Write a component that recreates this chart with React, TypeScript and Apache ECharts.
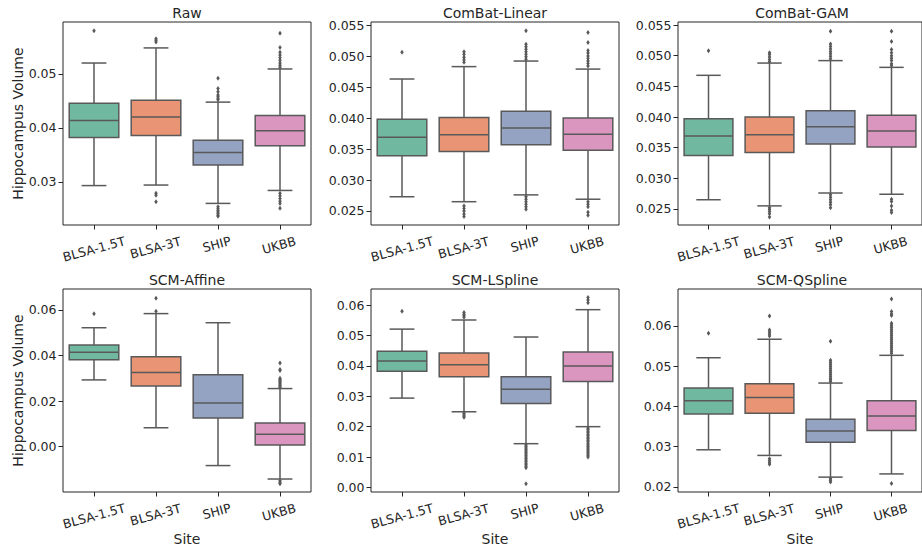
import React, { useEffect, useRef } from "react";
import * as echarts from "echarts";

// ---------- data ----------
const sites = ["BLSA-1.5T", "BLSA-3T", "SHIP", "UKBB"];
const panelTitles = ["Raw", "ComBat-Linear", "ComBat-GAM", "SCM-Affine", "SCM-LSpline", "SCM-QSpline"];

// [lower whisker, Q1, median, Q3, upper whisker] per site
const rawBoxes = [
  [0.0293, 0.0382, 0.04135, 0.04457, 0.052],
  [0.0294, 0.0386, 0.042, 0.0451, 0.0548],
  [0.026, 0.0331, 0.03543, 0.0377, 0.04476],
  [0.0284, 0.03667, 0.03944, 0.04228, 0.0509],
];
const linearBoxes = [
  [0.0273, 0.0339, 0.0369, 0.0398, 0.0463],
  [0.0265, 0.0346, 0.0373, 0.0401, 0.0483],
  [0.0276, 0.0357, 0.0384, 0.0411, 0.0492],
  [0.0269, 0.0348, 0.0374, 0.04, 0.0479],
];
const gamBoxes = [
  [0.0265, 0.0337, 0.0369, 0.0397, 0.0468],
  [0.0255, 0.0342, 0.0371, 0.04, 0.0488],
  [0.0276, 0.0356, 0.0384, 0.041, 0.0492],
  [0.0274, 0.0351, 0.0377, 0.0403, 0.0481],
];
const affineBoxes = [
  [0.0293, 0.0382, 0.0414, 0.0446, 0.0522],
  [0.0083, 0.0266, 0.0325, 0.0395, 0.0584],
  [-0.0083, 0.0126, 0.0192, 0.0316, 0.0544],
  [-0.0142, 0.0007, 0.0054, 0.0104, 0.0255],
];
const lsplineBoxes = [
  [0.0294, 0.0382, 0.0416, 0.0448, 0.0521],
  [0.0249, 0.0364, 0.0404, 0.0442, 0.0551],
  [0.0144, 0.0276, 0.0323, 0.0364, 0.0495],
  [0.02, 0.0349, 0.04, 0.0446, 0.0585],
];
const qsplineBoxes = [
  [0.0292, 0.0381, 0.0414, 0.0446, 0.0521],
  [0.0278, 0.0383, 0.0422, 0.0456, 0.0567],
  [0.0224, 0.0311, 0.0339, 0.0368, 0.0458],
  [0.0232, 0.034, 0.0376, 0.0414, 0.0527],
];

// outliers per site (same order as sites)
const rawOutliers = [
  [0.058],
  [0.0565, 0.0562, 0.0559, 0.0279, 0.0275, 0.0263],
  [0.0492, 0.0473, 0.0467, 0.0461, 0.0458, 0.0455, 0.0452, 0.0254, 0.025, 0.0247, 0.0244, 0.0241, 0.0238, 0.0236],
  [0.0575, 0.0549, 0.054, 0.0535, 0.053, 0.0525, 0.052, 0.0516, 0.0512, 0.0279, 0.0274, 0.0269, 0.0264, 0.026, 0.0251],
];
const linearOutliers = [
  [0.0506],
  [0.0507, 0.0503, 0.0498, 0.0494, 0.049, 0.0258, 0.0254, 0.025, 0.0245, 0.0241],
  [0.0541, 0.0519, 0.0515, 0.0511, 0.0507, 0.0503, 0.0499, 0.0495, 0.0273, 0.0269, 0.0265, 0.0261, 0.0257, 0.0253],
  [0.0538, 0.0522, 0.0509, 0.0505, 0.05, 0.0496, 0.0492, 0.0488, 0.0484, 0.0265, 0.0261, 0.0257, 0.0248, 0.0243],
];
const gamOutliers = [
  [0.0508],
  [0.0505, 0.0502, 0.0498, 0.0494, 0.049, 0.0252, 0.0249, 0.0246, 0.0242, 0.0237],
  [0.054, 0.0519, 0.0515, 0.0511, 0.0507, 0.0503, 0.0499, 0.0495, 0.0273, 0.0269, 0.0265, 0.0261, 0.0257, 0.0252],
  [0.054, 0.0523, 0.051, 0.0505, 0.05, 0.0496, 0.0492, 0.0487, 0.0484, 0.0266, 0.0262, 0.0255, 0.0248, 0.0244],
];
const affineOutliers = [
  [0.0583],
  [0.0651, 0.0594],
  [],
  [0.0367, 0.0339, 0.0334, 0.03, 0.0295, 0.029, 0.0285, 0.028, 0.0275, 0.027, 0.0265, 0.026, -0.015, -0.0157, -0.0163],
];
const lsplineOutliers = [
  [0.058],
  [0.0576, 0.057, 0.0565, 0.056, 0.0245, 0.024, 0.0235, 0.0231],
  [0.014, 0.0135, 0.013, 0.0125, 0.012, 0.0115, 0.011, 0.0105, 0.01, 0.0095, 0.009, 0.0085, 0.008, 0.0075, 0.007, 0.0065, 0.0012],
  [0.0625, 0.0617, 0.0608, 0.0195, 0.019, 0.0185, 0.018, 0.0175, 0.017, 0.0165, 0.016, 0.0155, 0.015, 0.0145, 0.014, 0.0135, 0.013, 0.0125, 0.012, 0.0115, 0.011, 0.0105, 0.01],
];
const qsplineOutliers = [
  [0.0582],
  [0.0625, 0.059, 0.0585, 0.058, 0.0575, 0.027, 0.0265, 0.026, 0.0256],
  [0.0562, 0.0515, 0.051, 0.0505, 0.05, 0.0495, 0.049, 0.0485, 0.048, 0.0475, 0.047, 0.0466, 0.0462, 0.022, 0.0216, 0.0212],
  [0.0667, 0.0636, 0.063, 0.0626, 0.0607, 0.0602, 0.0597, 0.0592, 0.0587, 0.0582, 0.0577, 0.0572, 0.0567, 0.0562, 0.0557, 0.0552, 0.0547, 0.0542, 0.0537, 0.0532, 0.0208],
];

// y-axis ranges and tick labels
const yMins = [0.022, 0.02274, 0.02238, -0.0199, -0.0015, 0.0187];
const yMaxs = [0.0596, 0.0555, 0.0555, 0.0692, 0.0653, 0.0692];
const yTicks = [
  [0.03, 0.04, 0.05],
  [0.025, 0.03, 0.035, 0.04, 0.045, 0.05, 0.055],
  [0.025, 0.03, 0.035, 0.04, 0.045, 0.05, 0.055],
  [0.0, 0.02, 0.04, 0.06],
  [0.0, 0.01, 0.02, 0.03, 0.04, 0.05, 0.06],
  [0.02, 0.03, 0.04, 0.05, 0.06],
];
const yDecimals = [2, 3, 3, 2, 2, 2];

const boxesAll = [rawBoxes, linearBoxes, gamBoxes, affineBoxes, lsplineBoxes, qsplineBoxes];
const outliersAll = [rawOutliers, linearOutliers, gamOutliers, affineOutliers, lsplineOutliers, qsplineOutliers];

const siteColors = ["#70b8a0", "#e99575", "#95a3c3", "#db96c0"];
const GRAY = "#595959";
const INK = "#262626";
const FONT = "DejaVu Sans";

// ---------- layout ----------
const gridLefts = [63, 371, 678];
const gridTops = [22, 289];
const gridW = 248;
const gridH = 203;

const labelPad: Record<string, number> = { "BLSA-1.5T": 0, "BLSA-3T": 3, SHIP: 10, UKBB: 8 };
const richKey: Record<string, string> = { "BLSA-1.5T": "a", "BLSA-3T": "b", SHIP: "c", UKBB: "d" };

export default function App() {
  const ref = useRef<HTMLDivElement>(null);
  useEffect(() => {
    if (!ref.current) return;
    const chart = echarts.init(ref.current, undefined, { renderer: "svg" });

    const grids: any[] = [];
    const xAxes: any[] = [];
    const yAxes: any[] = [];
    const series: any[] = [];
    const titles: any[] = [];

    const rich: any = {};
    sites.forEach((s) => {
      rich[richKey[s]] = { padding: [0, 0, labelPad[s], 0], fontSize: 12.5, fontFamily: FONT, color: INK };
    });

    for (let p = 0; p < 6; p++) {
      const row = Math.floor(p / 3);
      const col = p % 3;
      const left = gridLefts[col];
      const top = gridTops[row];
      grids.push({
        left,
        top,
        width: gridW,
        height: gridH,
        show: true,
        borderColor: INK,
        borderWidth: 1,
        backgroundColor: "transparent",
        containLabel: false,
      });
      titles.push({
        text: panelTitles[p],
        left: left + gridW / 2,
        top: top - 16,
        textAlign: "center",
        padding: 0,
        textStyle: { fontFamily: FONT, fontSize: 14, fontWeight: "normal", color: INK },
      });
      xAxes.push({
        type: "category",
        gridIndex: p,
        data: sites,
        boundaryGap: true,
        axisLine: { show: false, onZero: false },
        axisTick: { show: true, alignWithLabel: true, length: 4.5, lineStyle: { color: INK, width: 1 } },
        axisLabel: {
          interval: 0,
          rotate: 15,
          align: "center",
          verticalAlign: "middle",
          margin: 24,
          fontFamily: FONT,
          fontSize: 12.5,
          color: INK,
          formatter: (v: string) => `{${richKey[v]}|${v}}`,
          rich,
        },
        splitLine: { show: false },
        name: row === 1 ? "Site" : "",
        nameLocation: "middle",
        nameGap: 37,
        nameTextStyle: { fontFamily: FONT, fontSize: 14, color: INK },
      });
      const dec = yDecimals[p];
      yAxes.push({
        type: "value",
        gridIndex: p,
        min: yMins[p],
        max: yMaxs[p],
        axisLine: { show: false, onZero: false },
        splitLine: { show: false },
        axisTick: { show: true, length: 4.5, lineStyle: { color: INK, width: 1 }, customValues: yTicks[p] },
        axisLabel: {
          margin: 6.5,
          fontFamily: FONT,
          fontSize: 12.5,
          color: INK,
          customValues: yTicks[p],
          formatter: (v: number) => v.toFixed(dec),
        },
        name: col === 0 ? "Hippocampus Volume" : "",
        nameLocation: "middle",
        nameGap: 38,
        nameTextStyle: { fontFamily: FONT, fontSize: 14, color: INK },
      });

      const boxData = boxesAll[p].map((b, i) => [i, ...b]);
      series.push({
        type: "custom",
        xAxisIndex: p,
        yAxisIndex: p,
        encode: { x: 0, y: [1, 2, 3, 4, 5] },
        data: boxData,
        z: 2,
        renderItem: (params: any, api: any) => {
          const i = api.value(0);
          const lo = api.coord([i, api.value(1)]);
          const q1 = api.coord([i, api.value(2)]);
          const md = api.coord([i, api.value(3)]);
          const q3 = api.coord([i, api.value(4)]);
          const hi = api.coord([i, api.value(5)]);
          const band = api.size([1, 0])[0];
          const bh = band * 0.4;
          const ch = band * 0.2;
          const x = lo[0];
          const ls = { stroke: GRAY, lineWidth: 1.5 };
          return {
            type: "group",
            children: [
              { type: "line", shape: { x1: x, y1: q1[1], x2: x, y2: lo[1] }, style: ls },
              { type: "line", shape: { x1: x, y1: q3[1], x2: x, y2: hi[1] }, style: ls },
              { type: "line", shape: { x1: x - ch, y1: lo[1], x2: x + ch, y2: lo[1] }, style: ls },
              { type: "line", shape: { x1: x - ch, y1: hi[1], x2: x + ch, y2: hi[1] }, style: ls },
              {
                type: "rect",
                shape: { x: x - bh, y: q3[1], width: bh * 2, height: q1[1] - q3[1] },
                style: { fill: siteColors[i], stroke: GRAY, lineWidth: 1.5 },
              },
              { type: "line", shape: { x1: x - bh, y1: md[1], x2: x + bh, y2: md[1] }, style: ls },
            ],
          };
        },
      });

      const outData: number[][] = [];
      outliersAll[p].forEach((arr, i) => arr.forEach((v) => outData.push([i, v])));
      series.push({
        type: "scatter",
        xAxisIndex: p,
        yAxisIndex: p,
        data: outData,
        symbol: "diamond",
        symbolSize: [3.5, 5],
        itemStyle: { color: GRAY, opacity: 1 },
        z: 3,
        silent: true,
      });
    }

    chart.setOption({
      animation: false,
      backgroundColor: "#ffffff",
      textStyle: { fontFamily: FONT },
      title: titles,
      grid: grids,
      xAxis: xAxes,
      yAxis: yAxes,
      series,
    });
    return () => chart.dispose();
  }, []);

  return (
    <div
      ref={ref}
      style={{ position: "absolute", left: 0, top: 0, width: 922, height: 548 }}
    />
  );
}
